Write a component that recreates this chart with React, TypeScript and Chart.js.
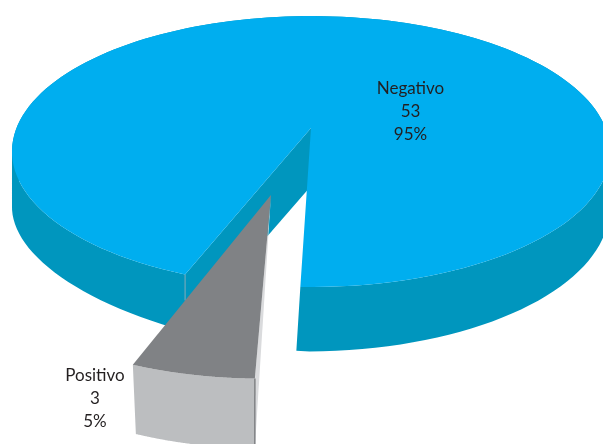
import React, { useEffect, useRef } from "react";
import { Chart, registerables } from "chart.js";

Chart.register(...registerables);

const categories = ["Negativo", "Positivo"];
const counts = [53, 3];
const percentLabels = ["95%", "5%"];
const topColors = ["#00AEEF", "#808285"];
const wallColors = ["#0096BE", "#BCBEC0"];

// Perspective camera for the tilted disc: unit-circle plane coordinates to canvas pixels.
const camera = { cx: 311, cy: 128, a: 294.5, b: 131.4, k: 0.1735 };
const project = (u: number, v: number) => {
  const w = 1 - camera.k * v;
  return { x: camera.cx + (camera.a * u) / w, y: camera.cy + (camera.b * v) / w };
};
const wallDepth = (v: number) => 58 / (1 - 0.1 * v);

// Offset, radius and small angular turn of each slice on the disc plane.
const sliceOffsets = [
  { u: 0, v: 0, r: 1, turn: 0 },
  { u: -0.125, v: 0.468, r: 0.965, turn: -0.011 },
];
const labelAnchors = [
  { x: 410.5, y: 88.5 },
  { x: 95, y: 375.5 },
];

type Pt = { x: number; y: number; u: number; v: number };
type XY = { x: number; y: number };

const slicePoints = (i: number, start: number, end: number) => {
  const o = sliceOffsets[i];
  const toPt = (u: number, v: number): Pt => ({ ...project(u, v), u, v });
  const apex = toPt(o.u, o.v);
  const rim: Pt[] = [];
  const steps = 160;
  for (let s = 0; s <= steps; s++) {
    const a = start + o.turn + ((end - start) * s) / steps;
    rim.push(toPt(o.u + o.r * Math.cos(a), o.v + o.r * Math.sin(a)));
  }
  return { apex, rim };
};

// Bottom edge of a wall: the large slice thins towards its front-left and leans near the cut.
const downBig = (p: Pt): XY => ({
  x: p.x + (p.u < -0.2 ? 0 : -4 * Math.max(0, p.v)),
  y: p.y + wallDepth(p.v) - 22 * Math.max(0, -p.u) * Math.max(0, p.v),
});
const downSmall = (p: Pt): XY => ({ x: p.x + (254 - p.x) * 0.025, y: p.y + wallDepth(p.v) + 2 });

const fillPoly = (ctx: CanvasRenderingContext2D, pts: XY[], color: string) => {
  ctx.beginPath();
  pts.forEach((p, n) => (n ? ctx.lineTo(p.x, p.y) : ctx.moveTo(p.x, p.y)));
  ctx.closePath();
  ctx.fillStyle = color;
  ctx.fill();
};

// The rim folds back on itself at the silhouette, so the wall is one path of facets that all
// wind the same way; a single fill then leaves neither holes nor seams.
const fillWall = (ctx: CanvasRenderingContext2D, rim: Pt[], down: (p: Pt) => XY, color: string) => {
  ctx.beginPath();
  for (let n = 0; n < rim.length - 1; n++) {
    const facet: XY[] = [rim[n], rim[n + 1], down(rim[n + 1]), down(rim[n])];
    let area = 0;
    facet.forEach((p, j) => {
      const q = facet[(j + 1) % 4];
      area += p.x * q.y - q.x * p.y;
    });
    if (area < 0) facet.reverse();
    facet.forEach((p, j) => (j ? ctx.lineTo(p.x, p.y) : ctx.moveTo(p.x, p.y)));
    ctx.closePath();
  }
  ctx.fillStyle = color;
  ctx.fill();
};

const line = (ctx: CanvasRenderingContext2D, a: XY, b: XY, color: string, width: number) => {
  ctx.beginPath();
  ctx.moveTo(a.x, a.y);
  ctx.lineTo(b.x, b.y);
  ctx.strokeStyle = color;
  ctx.lineWidth = width;
  ctx.stroke();
};

// Replaces the flat arcs with extruded slices, reading the angles the pie controller computed.
const tiltedPie = {
  id: "tiltedPie",
  beforeDatasetsDraw(chart: any) {
    const ctx: CanvasRenderingContext2D = chart.ctx;
    const arcs = chart.getDatasetMeta(0).data;

    // Large slice: outer wall, exposed cut face, then the top surface.
    const big = slicePoints(0, arcs[0].startAngle, arcs[0].endAngle);
    fillWall(ctx, big.rim, downBig, wallColors[0]);
    const bigFirst = big.rim[0];
    fillPoly(ctx, [big.apex, bigFirst, downBig(bigFirst), downBig(big.apex)], wallColors[0]);
    line(ctx, bigFirst, { x: bigFirst.x, y: bigFirst.y + 26 }, "#7FA9B8", 1);
    fillPoly(ctx, [big.apex, ...big.rim], topColors[0]);

    // Small slice: thin side face, outer wall, top surface.
    const small = slicePoints(1, arcs[1].startAngle, arcs[1].endAngle);
    const first = small.rim[0];
    fillPoly(ctx, [small.apex, first, downSmall(first)], "#DADBDD");
    fillWall(ctx, small.rim, downSmall, wallColors[1]);
    line(ctx, first, downSmall(first), "#808285", 1.5);
    fillPoly(ctx, [small.apex, ...small.rim], topColors[1]);

    return false;
  },
  // Each slice carries three centred lines: name, count, share.
  afterDraw(chart: any) {
    const ctx: CanvasRenderingContext2D = chart.ctx;
    ctx.save();
    ctx.font = '17px Lato, "Noto Sans", sans-serif';
    ctx.fillStyle = "#231F20";
    ctx.textAlign = "center";
    ctx.textBaseline = "middle";
    categories.forEach((name, i) => {
      const { x, y } = labelAnchors[i];
      [name, String(counts[i]), percentLabels[i]].forEach((text, n) => ctx.fillText(text, x, y + n * 23));
    });
    ctx.restore();
  },
};

export default function App() {
  const ref = useRef<HTMLCanvasElement>(null);
  useEffect(() => {
    const chart = new Chart(ref.current!, {
      type: "pie",
      data: {
        labels: categories,
        datasets: [{ data: counts, backgroundColor: topColors, borderWidth: 0 }],
      },
      options: {
        animation: false,
        responsive: false,
        rotation: 201,
        plugins: { legend: { display: false }, tooltip: { enabled: false } },
      },
      plugins: [tiltedPie],
    });
    return () => chart.destroy();
  }, []);
  return (
    <div style={{ position: "fixed", left: 0, top: 0, width: 603, height: 444, background: "#fff" }}>
      <canvas ref={ref} width={603} height={444} style={{ display: "block" }} />
    </div>
  );
}
